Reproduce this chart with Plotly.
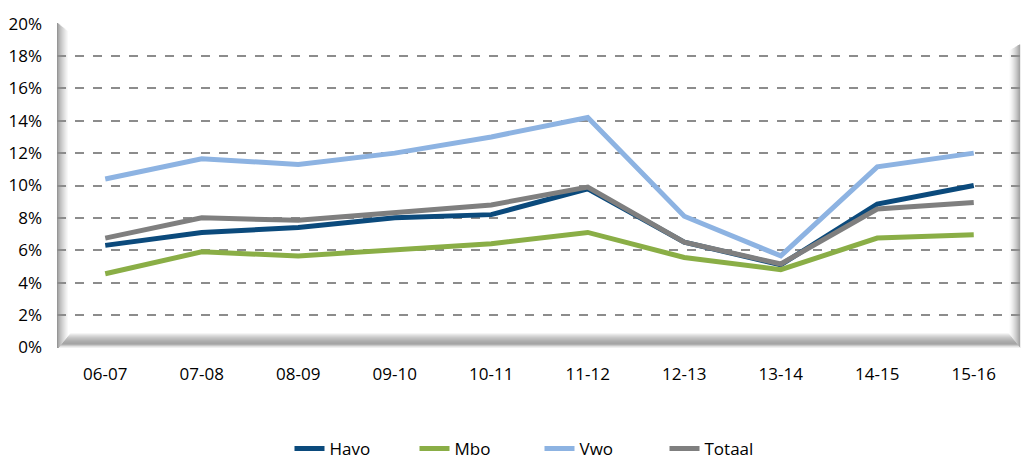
import plotly.graph_objects as go

categories = ["06-07", "07-08", "08-09", "09-10", "10-11", "11-12", "12-13", "13-14", "14-15", "15-16"]
havo = [6.3, 7.1, 7.4, 8.0, 8.2, 9.8, 6.5, 5.1, 8.85, 10.0]
mbo = [4.55, 5.9, 5.65, 6.0, 6.4, 7.1, 5.55, 4.8, 6.75, 6.95]
vwo = [10.4, 11.65, 11.3, 12.0, 13.0, 14.2, 8.1, 5.65, 11.15, 12.0]
totaal = [6.75, 8.0, 7.85, 8.3, 8.8, 9.9, 6.5, 5.15, 8.55, 8.95]
yticks = [0, 2, 4, 6, 8, 10, 12, 14, 16, 18, 20]
ytick_labels = [f"{v}%" for v in yticks]

series = [
    ("Havo", havo, "#0B4A7C"),
    ("Mbo", mbo, "#8AAE46"),
    ("Vwo", vwo, "#8DB3E2"),
    ("Totaal", totaal, "#7F7F7F"),
]

fig = go.Figure()
for name, vals, color in series:
    fig.add_trace(go.Scatter(x=categories, y=vals, name=name, mode="lines",
                             line=dict(color=color, width=5)))

W, H = 965.0, 325.0
shapes = []
def gray(v):
    return f"rgb({v},{v},{v})"

# left wall gradient
steps = 12
for i in range(steps):
    v = int(150 + (255 - 150) * (i / (steps - 1)) ** 0.7)
    shapes.append(dict(type="rect", xref="paper", yref="paper", layer="below",
                       x0=i / W, x1=(i + 1.2) / W, y0=0, y1=1 - (i * 0.8) / H,
                       fillcolor=gray(v), line=dict(width=0)))
# right wall gradient
for i in range(steps):
    v = int(255 - (255 - 165) * (i / (steps - 1)) ** 1.5)
    shapes.append(dict(type="rect", xref="paper", yref="paper", layer="below",
                       x0=(W - 14 + i) / W, x1=(W - 14 + i + 1.2) / W, y0=0,
                       y1=1 - (28 - i * 0.6) / H,
                       fillcolor=gray(v), line=dict(width=0)))
# floor gradient
floor = [255, 245, 232, 220, 210, 200, 192, 185, 178, 172, 168, 165, 175, 200, 225, 240]
n = len(floor)
for i, v in enumerate(floor):
    y1 = (n - i) / H
    y0 = (n - i - 1.2) / H
    shapes.append(dict(type="rect", xref="paper", yref="paper", layer="below",
                       x0=(14 - i * 0.8) / W, x1=(W - 14 + i * 0.8) / W, y0=max(y0, 0), y1=y1,
                       fillcolor=gray(v), line=dict(width=0)))

fig.update_layout(
    width=1024, height=462,
    margin=dict(l=57, r=2, t=23, b=114, autoexpand=False),
    paper_bgcolor="white", plot_bgcolor="white",
    font=dict(family="Open Sans", size=17, color="#000000"),
    showlegend=True,
    legend=dict(orientation="h", x=0.5, xanchor="center", y=-0.255, yanchor="top",
                font=dict(size=17), entrywidth=80, itemwidth=30),
    shapes=shapes,
    xaxis=dict(type="category", showgrid=False, zeroline=False, showline=False, ticks="",
               tickfont=dict(size=17), range=[-0.5, 9.5], ticklabelstandoff=14,
               automargin=False),
    yaxis=dict(range=[-0.04, 20.04], tickvals=yticks, ticktext=ytick_labels,
               showgrid=True, gridcolor="#8C8C8C", griddash="dash", gridwidth=1.5,
               zeroline=False, showline=False, ticks="", ticklabelstandoff=14,
               tickfont=dict(size=17), automargin=False),
)

fig.write_html("out.html", config={"displayModeBar": False},
               post_script="document.body.style.margin='0';document.body.style.overflow='hidden';")
